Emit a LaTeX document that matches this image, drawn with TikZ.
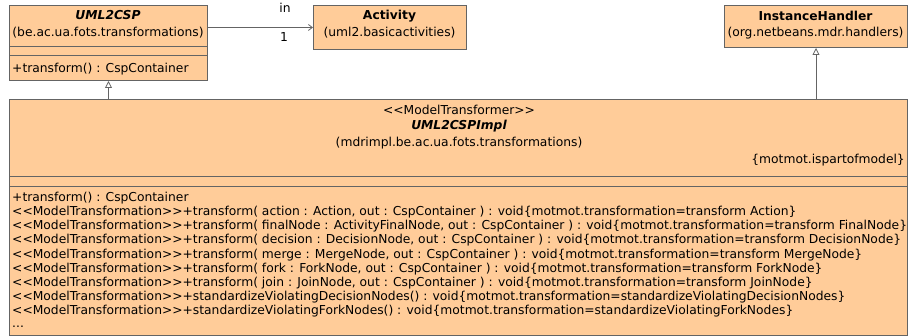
\documentclass[tikz,border=0pt]{standalone}
\usepackage{fontspec}
\setmainfont{DejaVu Sans}
\newfontfamily\umlfont{DejaVu Sans}
\usetikzlibrary{arrows.meta}
\definecolor{umlfill}{RGB}{255,204,153}
\definecolor{umlline}{RGB}{100,100,100}
\tikzset{
  classbox/.style={draw=umlline, fill=umlfill, line width=1pt, rectangle, inner sep=0pt, anchor=north west},
  divider/.style={draw=umlline, line width=1pt},
  txt/.style={inner sep=0pt, font=\umlfont\fontsize{12.3}{14}\selectfont},
  ttl/.style={txt, font=\umlfont\fontsize{12.3}{14}\selectfont\bfseries},
  ttli/.style={txt, font=\umlfont\fontsize{12.3}{14}\selectfont\bfseries\itshape},
  meth/.style={txt, anchor=base west},
  assoc/.style={draw=umlline, line width=0.8pt, -{Straight Barb[length=4pt,width=6pt]}},
  gen/.style={draw=umlline, line width=0.8pt, -{Triangle[open, length=7pt, width=7pt, fill=white]}},
  lbl/.style={txt}
}
\begin{document}
\begin{tikzpicture}[x=1pt,y=-1pt]
\useasboundingbox (0,0) rectangle (908,336);
% UML2CSP
\node[classbox, minimum width=198pt, minimum height=75pt] (uml) at (9,5) {};
\node[ttli] (umlname) at (108,15.5) {UML2CSP};
\node[txt] (umlpkg) at (108,33) {(be.ac.ua.fots.transformations)};
\draw[divider] (9,47) -- (207,47);
\draw[divider] (9,56) -- (207,56);
\node[meth] (umlm) at (12,72.5) {+transform() : CspContainer};
% Activity
\node[classbox, minimum width=153pt, minimum height=44pt] (act) at (313,5) {};
\node[ttl] (actname) at (389.5,16) {Activity};
\node[txt] (actpkg) at (389.5,33) {(uml2.basicactivities)};
% InstanceHandler
\node[classbox, minimum width=183pt, minimum height=42pt] (ih) at (724,5) {};
\node[ttl] (ihname) at (815.5,16) {InstanceHandler};
\node[txt] (ihpkg) at (815.5,33) {(org.netbeans.mdr.handlers)};
% UML2CSPImpl
\node[classbox, minimum width=898pt, minimum height=236pt] (impl) at (9,99) {};
\node[txt] (st) at (459,110) {<{}<ModelTransformer>{}>};
\node[ttli] (implname) at (459,126.5) {UML2CSPImpl};
\node[txt] (implpkg) at (459,143) {(mdrimpl.be.ac.ua.fots.transformations)};
\node[txt, anchor=east] (tag) at (905,160.5) {\{motmot.ispartofmodel\}};
\draw[divider] (9,176.5) -- (907,176.5);
\draw[divider] (9,187) -- (907,187);
\node[meth] (m1) at (12,202) {+transform() : CspContainer};
\node[meth] (m2) at (12,216) {<{}<ModelTransformation>{}>+transform( action : Action, out : CspContainer ) : void\{motmot.transformation=transform Action\}};
\node[meth] (m3) at (12,230) {<{}<ModelTransformation>{}>+transform( finalNode : ActivityFinalNode, out : CspContainer ) : void\{motmot.transformation=transform FinalNode\}};
\node[meth] (m4) at (12,244) {<{}<ModelTransformation>{}>+transform( decision : DecisionNode, out : CspContainer ) : void\{motmot.transformation=transform DecisionNode\}};
\node[meth] (m5) at (12,258.2) {<{}<ModelTransformation>{}>+transform( merge : MergeNode, out : CspContainer ) : void\{motmot.transformation=transform MergeNode\}};
\node[meth] (m6) at (12,272.3) {<{}<ModelTransformation>{}>+transform( fork : ForkNode, out : CspContainer ) : void\{motmot.transformation=transform ForkNode\}};
\node[meth] (m7) at (12,286.4) {<{}<ModelTransformation>{}>+transform( join : JoinNode, out : CspContainer ) : void\{motmot.transformation=transform JoinNode\}};
\node[meth] (m8) at (12,300.5) {<{}<ModelTransformation>{}>+standardizeViolatingDecisionNodes() : void\{motmot.transformation=standardizeViolatingDecisionNodes\}};
\node[meth] (m9) at (12,314.5) {<{}<ModelTransformation>{}>+standardizeViolatingForkNodes() : void\{motmot.transformation=standardizeViolatingForkNodes\}};
\node[meth] (m10) at (12,327.5) {...};
% connectors
\draw[assoc] (uml.east |- act.west) -- (act.west);
\node[lbl] (in) at (285,8) {in};
\node[lbl] (one) at (284,37) {1};
\draw[gen] (impl.north -| uml.south) -- (uml.south);
\draw[gen] (impl.north -| ih.south) -- (ih.south);
\end{tikzpicture}
\end{document}
